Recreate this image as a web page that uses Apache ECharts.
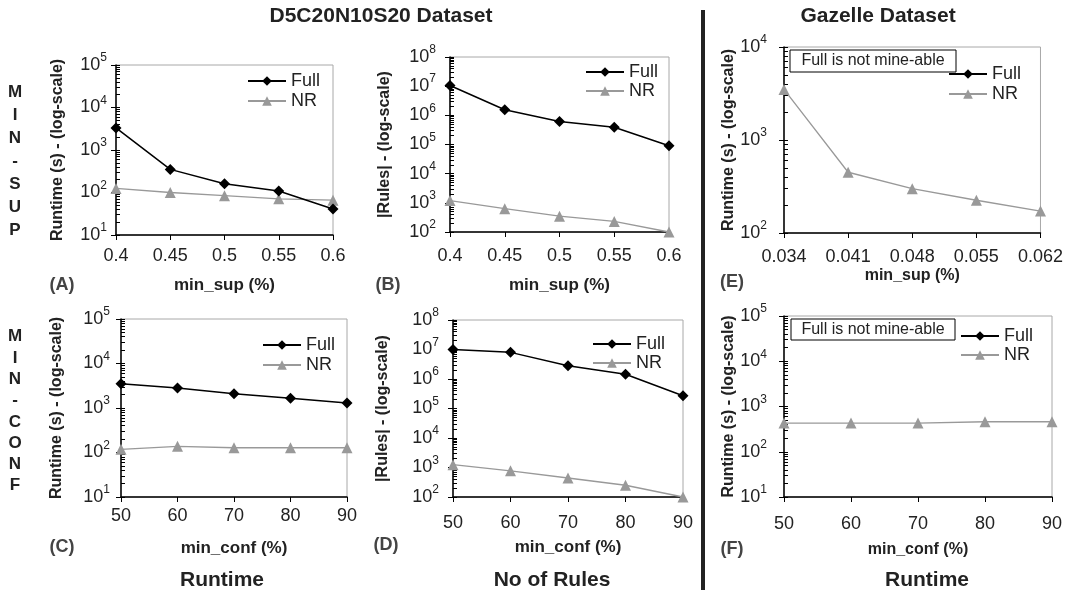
<!DOCTYPE html>
<html><head><meta charset="utf-8">
<script src="https://cdn.jsdelivr.net/npm/echarts@6/dist/echarts.min.js"></script>
<style>html,body{margin:0;padding:0;background:#fff}#c{width:1066px;height:590px}</style>
</head><body><div id="c"></div>
<script>
// ---- data ----
const supD = ['0.4', '0.45', '0.5', '0.55', '0.6'];
const confPct = ['50', '60', '70', '80', '90'];
const supG = ['0.034', '0.041', '0.048', '0.055', '0.062'];

const runtimeSupFull = [3300, 350, 160, 108, 41];
const runtimeSupNR = [125, 100, 84, 71, 66];
const rulesSupFull = [10500000, 1550000, 610000, 390000, 90000];
const rulesSupNR = [1200, 630, 350, 230, 100];
const runtimeConfFull = [3500, 2800, 2100, 1650, 1300];
const runtimeConfNR = [118, 138, 128, 128, 128];
const rulesConfFull = [10000000, 8000000, 2800000, 1450000, 270000];
const rulesConfNR = [1250, 770, 440, 250, 100];
const gazSupNR = [3500, 450, 300, 225, 172];
const gazConfNR = [430, 430, 430, 460, 460];

const expRuntime = [1, 2, 3, 4, 5];
const expRules = [2, 3, 4, 5, 6, 7, 8];
const expGazSup = [2, 3, 4];

const FONT = 'Liberation Sans, Arial, Helvetica, sans-serif';

const panels = [
  {cats: supD, full: runtimeSupFull, nr: runtimeSupNR, exps: expRuntime, yTitle: 'Runtime (s) - (log-scale)', xTitle: 'min_sup (%)',
   grid: {left: 116, top: 65, width: 217, height: 170}, yNameGap: 50, xNameGap: 42, xMargin: 12, yMargin: 9, xNameSize: 17,
   legend: {left: 247, top: 72, gap: 2}},
  {cats: supD, full: rulesSupFull, nr: rulesSupNR, exps: expRules, yTitle: '|Rules| - (log-scale)', xTitle: 'min_sup (%)',
   grid: {left: 450, top: 57, width: 219, height: 175}, yNameGap: 57, xNameGap: 45, xMargin: 15, yMargin: 14, xNameSize: 17,
   legend: {left: 585, top: 63, gap: 1}},
  {cats: confPct, full: runtimeConfFull, nr: runtimeConfNR, exps: expRuntime, yTitle: 'Runtime (s) - (log-scale)', xTitle: 'min_conf (%)',
   grid: {left: 121, top: 319, width: 226, height: 178}, yNameGap: 56, xNameGap: 43, xMargin: 10, yMargin: 11, xNameSize: 17,
   legend: {left: 262, top: 336, gap: 2}},
  {cats: confPct, full: rulesConfFull, nr: rulesConfNR, exps: expRules, yTitle: '|Rules| - (log-scale)', xTitle: 'min_conf (%)',
   grid: {left: 453, top: 320, width: 230, height: 177}, yNameGap: 62, xNameGap: 42, xMargin: 17, yMargin: 14, xNameSize: 17,
   legend: {left: 592, top: 335, gap: 1}},
  {cats: supG, full: null, nr: gazSupNR, exps: expGazSup, yTitle: 'Runtime (s) - (log-scale)', xTitle: 'min_sup (%)',
   grid: {left: 784, top: 47, width: 258, height: 186}, yNameGap: 46, xNameGap: 35, xMargin: 15, yMargin: 17, xNameSize: 16,
   legend: {left: 948, top: 65, gap: 2}},
  {cats: confPct, full: null, nr: gazConfNR, exps: expRuntime, yTitle: 'Runtime (s) - (log-scale)', xTitle: 'min_conf (%)',
   grid: {left: 784, top: 316, width: 268, height: 181}, yNameGap: 46, xNameGap: 45, xMargin: 18, yMargin: 17, xNameSize: 16,
   legend: {left: 960, top: 327, gap: 1}}
];

const grids = [], xAxes = [], yAxes = [], series = [], legends = [];
panels.forEach((p, i) => {
  const minE = p.exps[0], maxE = p.exps[p.exps.length - 1];
  const majors = p.exps.map(e => Math.pow(10, e));
  const minors = [];
  for (let e = minE; e < maxE; e++) for (let m = 2; m <= 9; m++) minors.push(m * Math.pow(10, e));
  grids.push(Object.assign({show: true, borderColor: '#a8a8a8', borderWidth: 1, containLabel: false}, p.grid));
  xAxes.push({
    type: 'category', gridIndex: i, data: p.cats, boundaryGap: false, position: 'bottom',
    axisLine: {lineStyle: {color: '#000', width: 1.5}},
    axisTick: {show: true, length: 5, lineStyle: {color: '#000', width: 1}},
    axisLabel: {interval: 0, fontSize: 18, color: '#222', margin: p.xMargin, fontFamily: FONT},
    splitLine: {show: false},
    name: p.xTitle, nameLocation: 'middle', nameGap: p.xNameGap,
    nameTextStyle: {fontSize: p.xNameSize, fontWeight: 'bold', color: '#222', fontFamily: FONT}
  });
  yAxes.push({
    type: 'log', logBase: 10, gridIndex: i, position: 'left', offset: 0,
    min: majors[0], max: majors[majors.length - 1],
    axisLine: {show: true, lineStyle: {color: '#000', width: 1.5}},
    axisTick: {show: true, length: 5, customValues: majors, lineStyle: {color: '#000', width: 1}},
    axisLabel: {
      customValues: majors, margin: p.yMargin, fontFamily: FONT,
      formatter: v => '{b|10}{s|' + Math.round(Math.log10(v)) + '}',
      rich: {b: {fontSize: 18, color: '#222', lineHeight: 26, fontFamily: FONT},
             s: {fontSize: 12, color: '#222', verticalAlign: 'top', lineHeight: 14, fontFamily: FONT}}
    },
    splitLine: {show: false},
    name: p.yTitle, nameLocation: 'middle', nameGap: p.yNameGap,
    nameTextStyle: {fontSize: 16, fontWeight: 'bold', color: '#222', fontFamily: FONT}
  });
  yAxes.push({
    type: 'log', logBase: 10, gridIndex: i, position: 'left', offset: 0,
    min: majors[0], max: majors[majors.length - 1],
    axisLine: {show: false},
    axisTick: {show: true, inside: true, length: 4, customValues: majors.concat(minors), lineStyle: {color: '#000', width: 1}},
    axisLabel: {show: false}, splitLine: {show: false}
  });
  if (p.full) {
    series.push({
      name: 'Full', type: 'line', xAxisIndex: i, yAxisIndex: 2 * i, data: p.full,
      symbol: 'diamond', symbolSize: 11, itemStyle: {color: '#000'},
      lineStyle: {color: '#000', width: 1.5}, z: 3
    });
  }
  series.push({
    name: 'NR', type: 'line', xAxisIndex: i, yAxisIndex: 2 * i, data: p.nr,
    symbol: 'triangle', symbolSize: 11, itemStyle: {color: '#999'},
    lineStyle: {color: '#999', width: 1.3}, z: 2
  });
  legends.push({
    data: ['Full', 'NR'], orient: 'vertical', left: p.legend.left, top: p.legend.top,
    itemWidth: 38, itemHeight: 12, itemGap: p.legend.gap, selectedMode: false, padding: 0,
    textStyle: {fontSize: 18, color: '#222', lineHeight: 18, fontFamily: FONT}
  });
});

function txt(x, y, text, size, weight, color, extra) {
  return {type: 'text', x: x, y: y, z: 10, style: Object.assign({text: text, font: weight + ' ' + size + 'px ' + FONT,
    fill: color || '#222', align: 'center', verticalAlign: 'middle'}, extra || {})};
}
const graphics = [
  txt(381, 16, 'D5C20N10S20 Dataset', 21, 'bold'),
  txt(878, 16, 'Gazelle Dataset', 21, 'bold'),
  txt(222, 580, 'Runtime', 21, 'bold'),
  txt(552, 580, 'No of Rules', 21, 'bold'),
  txt(927, 580, 'Runtime', 21, 'bold'),
  txt(62, 285, '(A)', 18, 'bold', '#444'),
  txt(388, 285, '(B)', 18, 'bold', '#444'),
  txt(732, 282, '(E)', 18, 'bold', '#444'),
  txt(62, 547, '(C)', 18, 'bold', '#444'),
  txt(386, 545, '(D)', 18, 'bold', '#444'),
  txt(732, 549, '(F)', 18, 'bold', '#444'),
  txt(15, 81, 'M\nI\nN\n-\nS\nU\nP', 17, 'bold', '#222', {verticalAlign: 'top', lineHeight: 23}),
  txt(15, 326, 'M\nI\nN\n-\nC\nO\nN\nF', 17, 'bold', '#222', {verticalAlign: 'top', lineHeight: 21.3}),
  {type: 'line', z: 10, shape: {x1: 703, y1: 10, x2: 703, y2: 590}, style: {stroke: '#222', lineWidth: 4}},
  {type: 'rect', z: 10, shape: {x: 790, y: 50, width: 166, height: 22}, style: {fill: '#fff', stroke: '#000', lineWidth: 1}},
  txt(873, 61, 'Full is not mine-able', 16, 'normal', '#222'),
  {type: 'rect', z: 10, shape: {x: 791, y: 319, width: 164, height: 21}, style: {fill: '#fff', stroke: '#000', lineWidth: 1}},
  txt(873, 330, 'Full is not mine-able', 16, 'normal', '#222')
];

const chart = echarts.init(document.getElementById('c'), null, {renderer: 'canvas'});
chart.setOption({
  backgroundColor: '#fff', animation: false,
  grid: grids, xAxis: xAxes, yAxis: yAxes, series: series, legend: legends, graphic: graphics
});
</script></body></html>
